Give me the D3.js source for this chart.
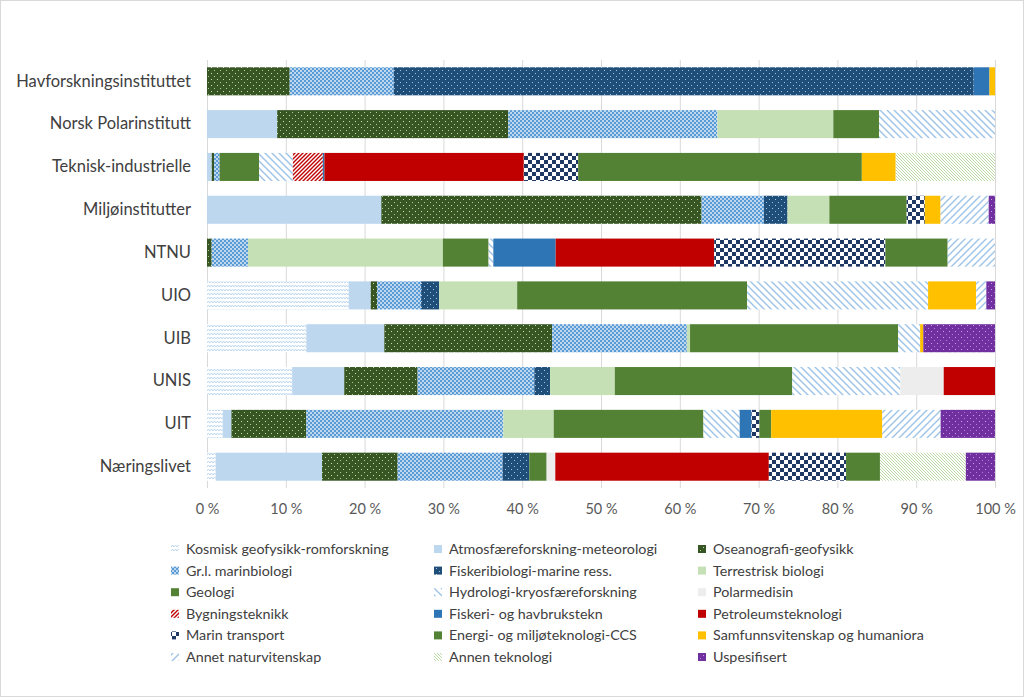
<!DOCTYPE html>
<html><head><meta charset="utf-8">
<script src="https://cdn.jsdelivr.net/npm/d3@7"></script>
<style>
html,body{margin:0;padding:0;background:#fff;}
svg{display:block;font-family:Lato,"Open Sans",sans-serif;}
</style></head>
<body>
<svg id="c" width="1024" height="697"></svg>
<script>
const categories = ["Havforskningsinstituttet","Norsk Polarinstitutt","Teknisk-industrielle","Miljøinstitutter","NTNU","UIO","UIB","UNIS","UIT","Næringslivet"];
const seriesNames = ["Kosmisk geofysikk-romforskning","Atmosfæreforskning-meteorologi","Oseanografi-geofysikk","Gr.l. marinbiologi","Fiskeribiologi-marine ress.","Terrestrisk biologi","Geologi","Hydrologi-kryosfæreforskning","Polarmedisin","Bygningsteknikk","Fiskeri- og havbrukstekn","Petroleumsteknologi","Marin transport","Energi- og miljøteknologi-CCS","Samfunnsvitenskap og humaniora","Annet naturvitenskap","Annen teknologi","Uspesifisert"];
const kos = [0,0,0,0,0,18.0,12.6,10.8,2.0,1.1];
const atm = [0,8.9,0.6,22.1,0,2.8,9.9,6.6,1.1,13.5];
const ose = [10.5,29.3,0.3,40.6,0.6,0.8,21.3,9.3,9.5,9.6];
const grl = [13.2,26.5,0.7,7.9,4.6,5.6,17.1,14.8,25.0,13.3];
const fis = [73.6,0,0,3.0,0,2.3,0,2.0,0,3.4];
const ter = [0,14.7,0,5.3,24.7,9.9,0.4,8.2,6.4,0];
const geo = [0,5.8,5.0,9.8,5.8,29.2,26.4,22.5,19.0,2.2];
const hyd = [0,14.7,4.3,0,0.6,23.0,2.8,13.7,4.6,0];
const pol = [0,0,0,0,0,0,0,5.5,0,1.1];
const byg = [0,0,3.8,0,0,0,0,0,0,0];
const fht = [2.0,0,0.2,0,7.9,0,0,0,1.5,0];
const pet = [0,0,25.3,0,20.1,0,0,6.5,0,27.1];
const mar = [0,0,6.9,2.3,21.7,0,0,0,1.0,9.8];
const ene = [0,0,36.0,0,7.9,0,0,0,1.5,4.3];
const sam = [0.7,0,4.3,2.0,0,6.1,0.4,0,14.1,0];
const ann = [0,0,0,6.1,6.0,1.3,0,0,7.4,0];
const ant = [0,0,12.6,0,0,0,0,0,0,10.9];
const usp = [0,0,0,0.8,0,1.1,9.1,0,6.9,3.7];
const tickLabels = ["0 %","10 %","20 %","30 %","40 %","50 %","60 %","70 %","80 %","90 %","100 %"];

const seriesValues = [kos,atm,ose,grl,fis,ter,geo,hyd,pol,byg,fht,pet,mar,ene,sam,ann,ant,usp];
const keys = seriesNames;
const table = categories.map((c,i)=>{const o={cat:c}; keys.forEach((k,j)=>o[k]=seriesValues[j][i]); return o;});

const svg = d3.select("#c");
svg.append("rect").attr("x",0.5).attr("y",0.5).attr("width",1023).attr("height",696).attr("fill","#fff").attr("stroke","#d9d9d9");

const defs = svg.append("defs");
function pat(id,w,h,bg,draw){
  const p = defs.append("pattern").attr("id",id).attr("patternUnits","userSpaceOnUse").attr("width",w).attr("height",h);
  p.append("rect").attr("width",w).attr("height",h).attr("fill",bg);
  draw(p);
}
pat("p0",6,4,"#fff",p=>p.append("path").attr("d","M0,3 L1.5,1 L3,3 L4.5,1 L6,3").attr("fill","none").attr("stroke","#BDD7EE").attr("stroke-width",1));
pat("p2",6,6,"#375623",p=>{p.append("rect").attr("x",1).attr("y",1).attr("width",1).attr("height",1).attr("fill","#C5E0B4");p.append("rect").attr("x",4).attr("y",4).attr("width",1).attr("height",1).attr("fill","#A9D18E");});
pat("p3",4,4,"#BDD7EE",p=>{p.append("rect").attr("width",2).attr("height",2).attr("fill","#5B9BD5");p.append("rect").attr("x",2).attr("y",2).attr("width",2).attr("height",2).attr("fill","#5B9BD5");});
pat("p4",6,6,"#1F4E79",p=>{p.append("rect").attr("x",1).attr("y",1).attr("width",1).attr("height",1).attr("fill","#9DC3E6");p.append("rect").attr("x",4).attr("y",4).attr("width",1).attr("height",1).attr("fill","#9DC3E6");});
pat("p7",7,7,"#fff",p=>p.append("path").attr("d","M-1,-1 L8,8 M-1,6 L1,8 M6,-1 L8,1").attr("stroke","#9DC3E6").attr("stroke-width",1.4));
pat("p9",4,4,"#fff",p=>p.append("path").attr("d","M-1,5 L5,-1 M-1,1 L1,-1 M3,5 L5,3").attr("stroke","#C00000").attr("stroke-width",1.4));
pat("p12",8,8,"#fff",p=>{p.append("rect").attr("width",4).attr("height",4).attr("fill","#203864");p.append("rect").attr("x",4).attr("y",4).attr("width",4).attr("height",4).attr("fill","#203864");});
pat("p15",7,7,"#fff",p=>p.append("path").attr("d","M-1,8 L8,-1 M-1,1 L1,-1 M6,8 L8,6").attr("stroke","#9DC3E6").attr("stroke-width",1.4));
pat("p16",3,3,"#fff",p=>p.append("path").attr("d","M-1,-1 L4,4 M-1,2 L1,4 M2,-1 L4,1").attr("stroke","#A9D18E").attr("stroke-width",0.8));
pat("p17",6,6,"#7030A0",p=>{p.append("rect").attr("x",1).attr("y",1).attr("width",1).attr("height",1).attr("fill","#C9A0E6");p.append("rect").attr("x",4).attr("y",4).attr("width",1).attr("height",1).attr("fill","#B080D8");});

const fills = ["url(#p0)","#BDD7EE","url(#p2)","url(#p3)","url(#p4)","#C5E0B4","#548235","url(#p7)","#EDEDED","url(#p9)","#2E75B6","#C00000","url(#p12)","#548235","#FFC000","url(#p15)","url(#p16)","url(#p17)"];

const x = d3.scaleLinear().domain([0,1]).range([207,995]);
const y = d3.scaleBand().domain(categories).range([60,488]).paddingInner(0.345).paddingOuter(0.17);

svg.append("g").selectAll("line").data(d3.range(0,11)).join("line")
  .attr("x1",d=>x(d/10)+0.5).attr("x2",d=>x(d/10)+0.5).attr("y1",60).attr("y2",488)
  .attr("stroke","#D9D9D9").attr("stroke-width",1);

const stack = d3.stack().keys(keys).offset(d3.stackOffsetExpand);
const layers = stack(table);
svg.append("g").selectAll("g").data(layers).join("g")
  .attr("fill",(d,i)=>fills[i])
  .selectAll("rect").data(d=>d).join("rect")
  .attr("x",d=>x(d[0])).attr("width",d=>Math.max(0,x(d[1])-x(d[0])))
  .attr("y",d=>y(d.data.cat)).attr("height",y.bandwidth());

const xAxis = d3.axisBottom(x).tickValues(d3.range(0,11).map(d=>d/10)).tickFormat((d,i)=>tickLabels[i]).tickSize(0).tickPadding(0);
const gx = svg.append("g").attr("transform","translate(0,504)").call(xAxis);
gx.select(".domain").remove();
gx.selectAll("text").attr("font-family","Lato, sans-serif").attr("font-size",14.5).attr("fill","#595959").attr("dy","0.71em");

const yAxis = d3.axisLeft(y).tickSize(0).tickPadding(0);
const gy = svg.append("g").attr("transform","translate(191,0)").call(yAxis);
gy.select(".domain").remove();
gy.selectAll("text").attr("font-family","Lato, sans-serif").attr("font-size",16.5).attr("fill","#404040");

const colX = [175,438,702];
const rowY0 = 549, rowStep = 21.6;
const leg = svg.append("g");
keys.forEach((k,i)=>{
  const col = i%3, row = Math.floor(i/3);
  const gx0 = colX[col], gy0 = rowY0 + row*rowStep;
  leg.append("rect").attr("x",gx0-4).attr("y",gy0-4).attr("width",8).attr("height",8).attr("fill",fills[i]);
  leg.append("text").attr("x",gx0+11).attr("y",gy0).attr("dy","0.35em")
    .attr("font-family","Lato, sans-serif").attr("font-size",14.3).attr("fill","#404040").text(k);
});
</script>
</body></html>
